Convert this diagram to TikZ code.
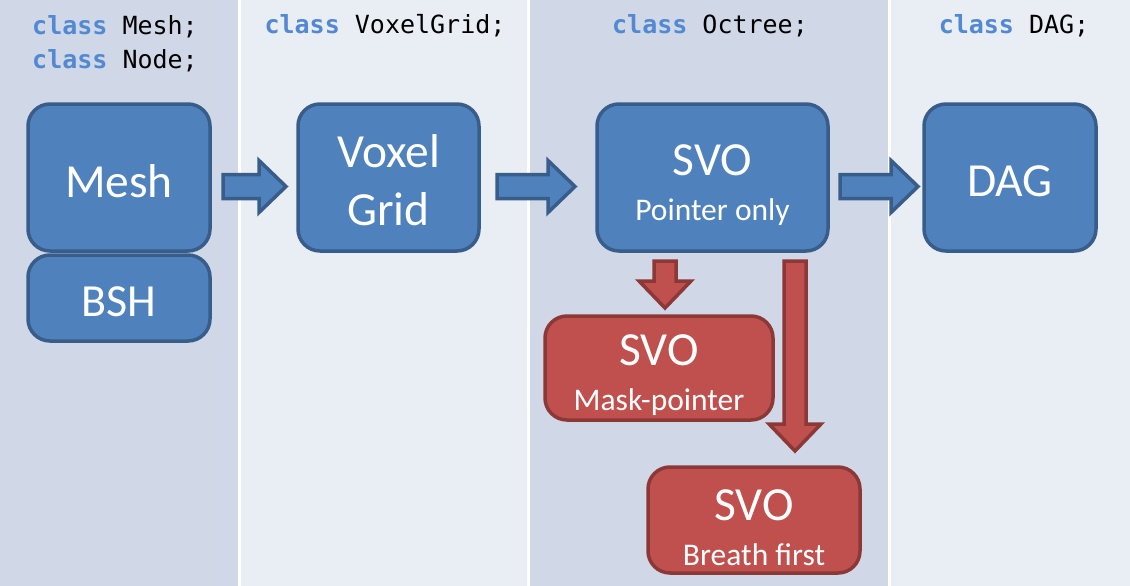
\documentclass[tikz,border=0pt]{standalone}
\usepackage{xcolor}
\usepackage{fontspec}
\setmainfont{Carlito}
\setmonofont{DejaVu Sans Mono}
\definecolor{coldark}{HTML}{D0D8E8}
\definecolor{collight}{HTML}{E9EDF4}
\definecolor{boxfill}{HTML}{4F81BD}
\definecolor{boxline}{HTML}{385D8A}
\definecolor{redfill}{HTML}{C0504D}
\definecolor{redline}{HTML}{8C3836}
\definecolor{keyword}{HTML}{5289D2}
\usepackage{tikz}
\usetikzlibrary{calc}
\usetikzlibrary{positioning}
\tikzstyle{box} = [rectangle, draw=boxline, fill=boxfill, line width=3.5pt,
    rounded corners=22pt, text=white, align=center, inner sep=0pt, outer sep=0pt]
\tikzstyle{redbox} = [box, draw=redline, fill=redfill]
\tikzstyle{bluearrow} = [draw=boxline, fill=boxfill, line width=3.5pt]
\tikzstyle{redarrow} = [draw=redline, fill=redfill, line width=3.5pt]
\tikzstyle{code} = [font=\ttfamily\fontsize{25}{34}\selectfont, align=left, inner sep=0pt]
\tikzstyle{bigtext} = [font=\fontsize{47.5}{58}\selectfont]
\newcommand{\kw}[1]{\textcolor{keyword}{\bfseries #1}}
\newcommand{\up}[1]{\rule{0pt}{#1}}
\newcommand{\subtxt}[1]{\\[-13pt]{\fontsize{31.5}{30}\selectfont #1}}
% block arrows: style, tail, tip
\newcommand{\rightblock}[3]{\draw[#1] let \p1=(#2), \p2=(#3) in
    (\x1,\y1+12pt) -- (\x2-27pt,\y1+12pt) -- (\x2-27pt,\y1+26pt) -- (\x2,\y1)
    -- (\x2-27pt,\y1-26pt) -- (\x2-27pt,\y1-12pt) -- (\x1,\y1-12pt) -- cycle;}
\newcommand{\downblock}[3]{\draw[#1] let \p1=(#2), \p2=(#3) in
    (\x1-11pt,\y1) -- (\x1-11pt,\y2+27pt) -- (\x1-26pt,\y2+27pt) -- (\x1,\y2)
    -- (\x1+26pt,\y2+27pt) -- (\x1+11pt,\y2+27pt) -- (\x1+11pt,\y1) -- cycle;}

\begin{document}
\begin{tikzpicture}[x=1pt,y=-1pt]
    \useasboundingbox (0,0) rectangle (1130,586);
    % Columns
    \fill[white] (0,0) rectangle (1130,586);
    \fill[coldark] (0,0) rectangle (238,586);
    \fill[collight] (241,0) rectangle (527,586);
    \fill[coldark] (530,0) rectangle (888,586);
    \fill[collight] (891,0) rectangle (1130,586);

    % Place nodes
    \node [code] (hmesh) at (115,43.5) {\kw{class} Mesh;\\\kw{class} Node;};
    \node [code] (hgrid) at (385,26) {\kw{class} VoxelGrid;};
    \node [code] (hoct) at (710,26) {\kw{class} Octree;};
    \node [code] (hdag) at (1014,26) {\kw{class} DAG;};

    \node [box, bigtext, minimum width=182pt, minimum height=147pt] (mesh) at (119,177.5) {\up{40pt}Mesh};
    \node [box, font=\fontsize{46}{52}\selectfont, minimum width=182pt, minimum height=86pt,
        below=4pt of mesh] (bsh) {\up{38pt}BSH};
    \node [box, bigtext, minimum width=181pt, minimum height=147pt, right=88pt of mesh] (grid) {\up{39pt}Voxel\\Grid};
    \node [box, bigtext, minimum width=231pt, minimum height=147pt, right=118pt of grid] (svo) {\up{46pt}SVO\subtxt{Pointer only}};
    \node [box, bigtext, minimum width=172pt, minimum height=147pt, right=96pt of svo] (dag) {\up{38pt}DAG};
    \node [redbox, bigtext, minimum width=228pt, minimum height=104pt] (mask) at (659,368) {\up{46pt}SVO\subtxt{Mask-pointer}};
    \node [redbox, bigtext, minimum width=212pt, minimum height=106pt] (breath) at (754,520) {\up{46pt}SVO\subtxt{Breath first}};

    % Draw edges
    \rightblock{bluearrow}{$(mesh.east)+(13,9)$}{$(grid.west)+(-12,9)$}
    \rightblock{bluearrow}{$(grid.east)+(18,9)$}{$(svo.west)+(-22,9)$}
    \rightblock{bluearrow}{$(svo.east)+(12,9)$}{$(dag.west)+(-6,9)$}
    \downblock{redarrow}{$(svo.south)+(-47.5,10)$}{$(mask.north)+(6,-8)$}
    \downblock{redarrow}{$(svo.south)+(82.5,10)$}{$(breath.north)+(41,-16)$}
\end{tikzpicture}
\end{document}
